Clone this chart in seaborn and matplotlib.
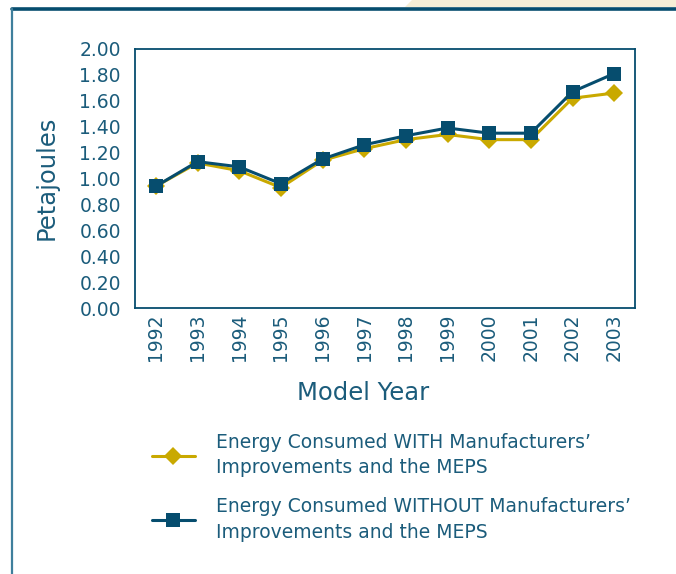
import pandas as pd
import matplotlib.pyplot as plt
import seaborn as sns
from matplotlib.lines import Line2D
from matplotlib.patches import Polygon

years = ["1992", "1993", "1994", "1995", "1996", "1997",
         "1998", "1999", "2000", "2001", "2002", "2003"]
with_meps = [0.94, 1.12, 1.06, 0.93, 1.14, 1.23, 1.30, 1.34, 1.30, 1.30, 1.62, 1.66]
without_meps = [0.94, 1.13, 1.09, 0.96, 1.15, 1.26, 1.33, 1.39, 1.35, 1.35, 1.67, 1.81]
yticks = [0.0, 0.2, 0.4, 0.6, 0.8, 1.0, 1.2, 1.4, 1.6, 1.8, 2.0]

label_with = "Energy Consumed WITH Manufacturers\u2019\nImprovements and the MEPS"
label_without = "Energy Consumed WITHOUT Manufacturers\u2019\nImprovements and the MEPS"

navy = "#064d6e"
gold = "#c9a900"
text_col = "#1b5c7b"

sns.set_style("white")
plt.rcParams['font.family'] = ['DejaVu Sans']

fig = plt.figure(figsize=(6.76, 5.74), dpi=100)
ax = fig.add_axes([135 / 676, 1 - 308 / 574, 500 / 676, 259 / 574])

df = pd.DataFrame({"year": years, "with": with_meps, "without": without_meps})
sns.lineplot(data=df, x="year", y="with", ax=ax, color=gold, lw=2.2,
             marker="D", markersize=9.5, markeredgewidth=0, label=label_with)
sns.lineplot(data=df, x="year", y="without", ax=ax, color=navy, lw=2.2,
             marker="s", markersize=10.5, markeredgewidth=0, label=label_without)

ax.set_xlim(-0.5, len(years) - 0.5)
ax.set_ylim(0, 2.0)
ax.set_yticks(yticks)
ax.set_yticklabels([f"{v:.2f}" for v in yticks])
ax.set_xticks(range(len(years)))
ax.set_xticklabels(years, rotation=90)
ax.set_xticks([i - 0.5 for i in range(len(years) + 1)], minor=True)
ax.tick_params(axis="x", which="major", length=0, pad=4, labelsize=13.5, colors=text_col)
ax.tick_params(axis="x", which="minor", length=3.5, width=1.2, color=navy, direction="out")
ax.tick_params(axis="y", length=3.6, width=1.2, color=navy, labelsize=13.5,
               labelcolor=text_col, pad=6.5)
for s in ax.spines.values():
    s.set_color(navy)
    s.set_linewidth(1.3)
ax.set_xlabel("")
ax.set_ylabel("")

fig.text(47 / 676, 1 - 178 / 574, "Petajoules", rotation=90, ha="center", va="center",
         fontsize=17.5, color=text_col)
fig.text(363 / 676, 1 - 393 / 574, "Model Year", ha="center", va="center",
         fontsize=17.5, color=text_col)

leg = ax.legend(loc="upper left", bbox_to_anchor=(146 / 676, 1 - 427 / 574),
                bbox_transform=fig.transFigure, frameon=False, fontsize=13.5,
                handlelength=2.3, labelspacing=1.05, handletextpad=1.15,
                borderaxespad=0, borderpad=0.3)
for t in leg.get_texts():
    t.set_color(text_col)
    t.set_linespacing(1.45)

# page frame
fig.patches.append(Polygon([(405 / 676, 1 - 7 / 574), (412 / 676, 1.0), (1.0, 1.0),
                            (1.0, 1 - 7 / 574)], closed=True, transform=fig.transFigure,
                           facecolor="#f6eed6", edgecolor="none"))
fig.lines.append(Line2D([12 / 676, 1.0], [1 - 9 / 574] * 2, transform=fig.transFigure,
                        color=navy, lw=2.6))
fig.lines.append(Line2D([12 / 676] * 2, [0, 1 - 9 / 574], transform=fig.transFigure,
                        color="#3f7f9c", lw=1.6))

fig.savefig("out.png", dpi=100)
